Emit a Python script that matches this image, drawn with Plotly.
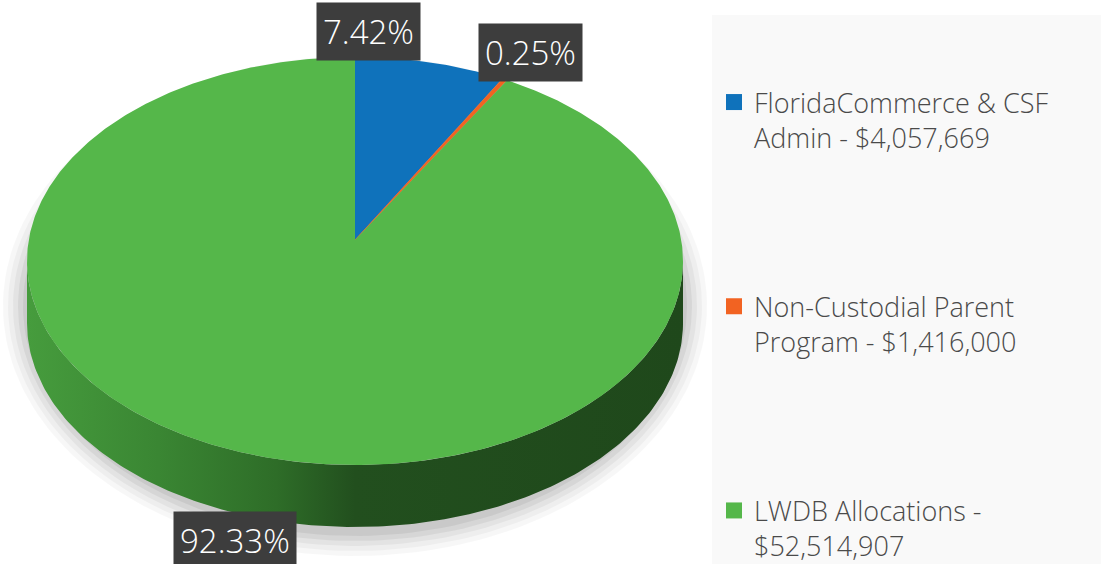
import numpy as np
import plotly.graph_objects as go

# ---------------- data ----------------
names = ["FloridaCommerce & CSF Admin", "Non-Custodial Parent Program", "LWDB Allocations"]
legend_text = ["FloridaCommerce & CSF<br>Admin - $4,057,669",
               "Non-Custodial Parent<br>Program - $1,416,000",
               "LWDB Allocations -<br>$52,514,907"]
amounts = [4057669, 1416000, 52514907]
shares = [7.42, 0.25, 92.33]          # percent shown on chart
share_labels = ["7.42%", "0.25%", "92.33%"]
colors = ["#0f72bb", "#f26322", "#55b74a"]

# ---------------- geometry (pixel space) ----------------
W, H = 1101, 564
cx, cy = 355, 261          # ellipse centre of top face
ax_, by_ = 328, 204        # semi axes
apex = (355, 240)
depth = 62

def ell(t_deg, dy=0.0):
    t = np.radians(t_deg)
    return cx + ax_ * np.sin(t), cy - by_ * np.cos(t) + dy

fig = go.Figure()

# soft shadow
for a_s, b_s, al in [(352, 250, 0.03), (347, 245, 0.035), (342, 240, 0.045), (337, 235, 0.055), (332, 230, 0.06)]:
    t = np.linspace(0, 2 * np.pi, 200)
    fig.add_trace(go.Scatter(x=355 + a_s * np.sin(t), y=300 - b_s * np.cos(t) + 6,
                             fill="toself", mode="lines", line=dict(width=0),
                             fillcolor=f"rgba(0,0,0,{al})", hoverinfo="skip", showlegend=False))

# side of the pie (front half, belongs to the large slice)
ts = np.linspace(90, 270, 200)
xs_top, ys_top = ell(ts)
xs_bot, ys_bot = ell(ts[::-1], depth)
fig.add_trace(go.Scatter(
    x=np.concatenate([xs_top, xs_bot]), y=np.concatenate([ys_top, ys_bot]),
    fill="toself", mode="lines", line=dict(width=0),
    fillgradient=dict(type="horizontal",
                      colorscale=[[0, "#469c3d"], [0.2, "#3a8633"], [0.38, "#2e6d28"],
                                  [0.5, "#224f1e"], [1, "#1f481b"]]),
    hoverinfo="skip", showlegend=False))

# top faces of slices
start = 0.0
for i, s in enumerate(shares):
    span = s / sum(shares) * 360.0
    tt = np.linspace(start, start + span, max(3, int(span * 2)))
    ex, ey = ell(tt)
    fig.add_trace(go.Scatter(
        x=np.concatenate([[apex[0]], ex, [apex[0]]]),
        y=np.concatenate([[apex[1]], ey, [apex[1]]]),
        fill="toself", mode="lines", line=dict(width=0.6 if i == 1 else 0, color=colors[i]),
        fillcolor=colors[i], hoverinfo="skip", showlegend=False))
    start += span

# legend entries
for i in range(3):
    fig.add_trace(go.Scatter(
        x=[None], y=[None], mode="markers", name=legend_text[i],
        legendgroup=f"g{i}",
        marker=dict(symbol="square", size=16, color=colors[i]),
        showlegend=True))

# percentage labels
label_pos = [(368, 31), (530, 52), (235, 540)]
for txt, (lx, ly) in zip(share_labels, label_pos):
    fig.add_annotation(x=lx, y=ly, xref="x", yref="y", text=txt, showarrow=False,
                       font=dict(family="Open Sans", size=33, color="white", weight=300),
                       bgcolor="#3d3d3d", borderpad=6)

# legend panel
fig.add_shape(type="rect", xref="x", yref="y", x0=712, x1=W, y0=15, y1=H,
              fillcolor="#f9f9f9", line=dict(width=0), layer="below")

fig.update_layout(
    width=W, height=H, autosize=False,
    margin=dict(l=0, r=0, t=0, b=0, autoexpand=False),
    paper_bgcolor="white", plot_bgcolor="white",
    xaxis=dict(range=[0, W], visible=False, fixedrange=True),
    yaxis=dict(range=[H, 0], visible=False, fixedrange=True),
    showlegend=True,
    legend=dict(x=714 / W, xanchor="left", y=1 - 78 / H, yanchor="top",
                bgcolor="rgba(0,0,0,0)", valign="top",
                font=dict(family="Open Sans", size=27, color="#4a4a4a", weight=300),
                tracegroupgap=131, traceorder="grouped", itemsizing="trace"),
)

fig.write_html("out.html", config={"displayModeBar": False},
               post_script="document.body.style.margin='0';")
